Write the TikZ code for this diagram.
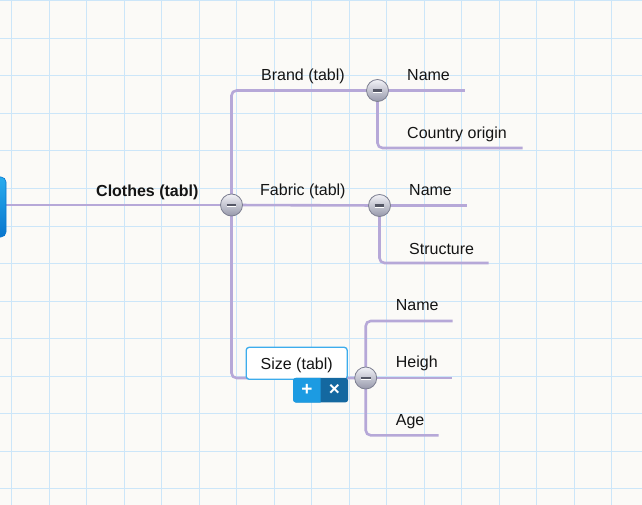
\documentclass[tikz,border=0pt]{standalone}
\usepackage{fontspec}
\setmainfont{Liberation Sans}
\pgfdeclarelayer{bg}
\pgfdeclarelayer{lines}
\pgfsetlayers{bg,lines,main}
\definecolor{paper}{RGB}{251,250,247}
\definecolor{gridc}{RGB}{204,230,249}
\definecolor{conn}{RGB}{182,168,216}
\definecolor{txt}{RGB}{20,20,20}
\definecolor{boxblue}{RGB}{60,172,236}
\definecolor{tbl}{RGB}{28,155,226}
\definecolor{tbd}{RGB}{20,104,160}
\definecolor{btntop}{RGB}{242,242,247}
\definecolor{btnbot}{RGB}{150,152,170}
\definecolor{btnedge}{RGB}{125,127,145}
\definecolor{minusc}{RGB}{85,87,102}
\definecolor{rootA}{RGB}{40,172,238}
\definecolor{rootB}{RGB}{8,118,205}
\tikzset{
  lbl/.style={anchor=base west, inner sep=0pt, text=txt, font=\fontsize{16}{19}\selectfont},
  connline/.style={draw=conn, line width=2.6pt, rounded corners=5pt},
  thinconn/.style={draw=conn, line width=1.8pt},
  btn/.style={circle, minimum size=22pt, inner sep=0pt, draw=btnedge, line width=0.8pt,
    top color=btntop, bottom color=btnbot,
    path picture={
      \draw[line width=0.9pt, white] ([xshift=-4.8pt,yshift=-1.8pt]path picture bounding box.center) -- ([xshift=4.8pt,yshift=-1.8pt]path picture bounding box.center);
      \draw[line width=2.5pt, minusc] ([xshift=-4.8pt]path picture bounding box.center) -- ([xshift=4.8pt]path picture bounding box.center);
    }},
  sizebox/.style={rectangle, rounded corners=3pt, draw=boxblue, line width=1.3pt, fill=white,
    minimum width=101pt, minimum height=32pt, inner sep=0pt, text height=11.4pt, text depth=0pt,
    text=txt, font=\fontsize{16}{19}\selectfont},
  tbar/.style={rectangle, rounded corners=3pt, fill=tbd, minimum width=55pt, minimum height=24.5pt, inner sep=0pt},
  tbtext/.style={text=white, inner sep=0pt, font=\bfseries\fontsize{19}{19}\selectfont},
  rootbox/.style={rectangle, rounded corners=5pt, minimum width=60pt, minimum height=60pt,
    top color=rootA, bottom color=rootB, draw=rootB, line width=0.6pt}
}
\begin{document}
\begin{tikzpicture}[x=1pt,y=-1pt]
\useasboundingbox (0,0) rectangle (642,505);
\clip (0,0) rectangle (642,505);
\begin{pgfonlayer}{bg}
  \fill[paper] (0,0) rectangle (642,505);
  \foreach \i in {0,...,16} \draw[gridc, line width=1pt] ({11.7+37.5*\i},0) -- ({11.7+37.5*\i},505);
  \foreach \j in {0,...,13} \draw[gridc, line width=1pt] (0,{1+37.5*\j}) -- (642,{1+37.5*\j});
\end{pgfonlayer}

% root (partly off-picture)
\node[rootbox] (root) at (-24,207) {};

% buttons
\node[btn] (cbtn) at (231.5,205) {};
\node[btn] (bbtn) at (377.5,90.5) {};
\node[btn] (fbtn) at (379.5,205.5) {};
\node[btn] (sbtn) at (365.7,378) {};

% labels
\node[lbl, font=\bfseries\fontsize{16}{19}\selectfont] (clothes) at (96,196.5) {Clothes (tabl)};
\node[lbl] (brand) at (261,81) {Brand (tabl)};
\node[lbl] (bname) at (407,81) {Name};
\node[lbl] (bcountry) at (407,138.3) {Country origin};
\node[lbl] (fabric) at (260,195.5) {Fabric (tabl)};
\node[lbl] (fname) at (409,196) {Name};
\node[lbl] (fstruct) at (409,254) {Structure};
\node[lbl] (sname) at (395.7,310.7) {Name};
\node[lbl] (sheigh) at (395.7,367.3) {Heigh};
\node[lbl] (sage) at (395.7,425.7) {Age};

% line ends
\coordinate (cL) at (80,205);
\coordinate (bnameE) at (465,90.5);
\coordinate (bcountryE) at (522.7,148);
\coordinate (fnameE) at (467,205.5);
\coordinate (fstructE) at (488.5,263);
\coordinate (snameE) at (452.5,321);
\coordinate (sheighE) at (452,378);
\coordinate (sageE) at (438.5,435.3);

\begin{pgfonlayer}{lines}
  \draw[thinconn] (root.east |- cbtn.center) -- (cL);
  \draw[connline] (cL) -- (cbtn.center);
  \draw[connline] (cbtn.center) |- (bbtn.center);
  \draw[connline] (cbtn.center) -- (fbtn.center);
  \draw[connline] (cbtn.center) |- (sbtn.center);
  \draw[connline] (bbtn.center) -- (bnameE);
  \draw[connline] (bbtn.center) |- (bcountryE);
  \draw[connline] (fbtn.center) -- (fnameE);
  \draw[connline] (fbtn.center) |- (fstructE);
  \draw[connline] (sbtn.center) |- (snameE);
  \draw[connline] (sbtn.center) -- (sheighE);
  \draw[connline] (sbtn.center) |- (sageE);
\end{pgfonlayer}

% selected node with toolbar
\node[sizebox] (sbox) at (296.7,363.3) {Size (tabl)};
\node[tbar] (bar) at (320.7,390.2) {};
\begin{scope}
  \clip (bar.north west) rectangle (bar.south);
  \fill[tbl, rounded corners=3pt] (bar.north west) rectangle (bar.south east);
\end{scope}
\node[tbtext] (plus) at (307,390.2) {+};
\node[tbtext] (times) at (334.5,390.2) {×};
\end{tikzpicture}
\end{document}
